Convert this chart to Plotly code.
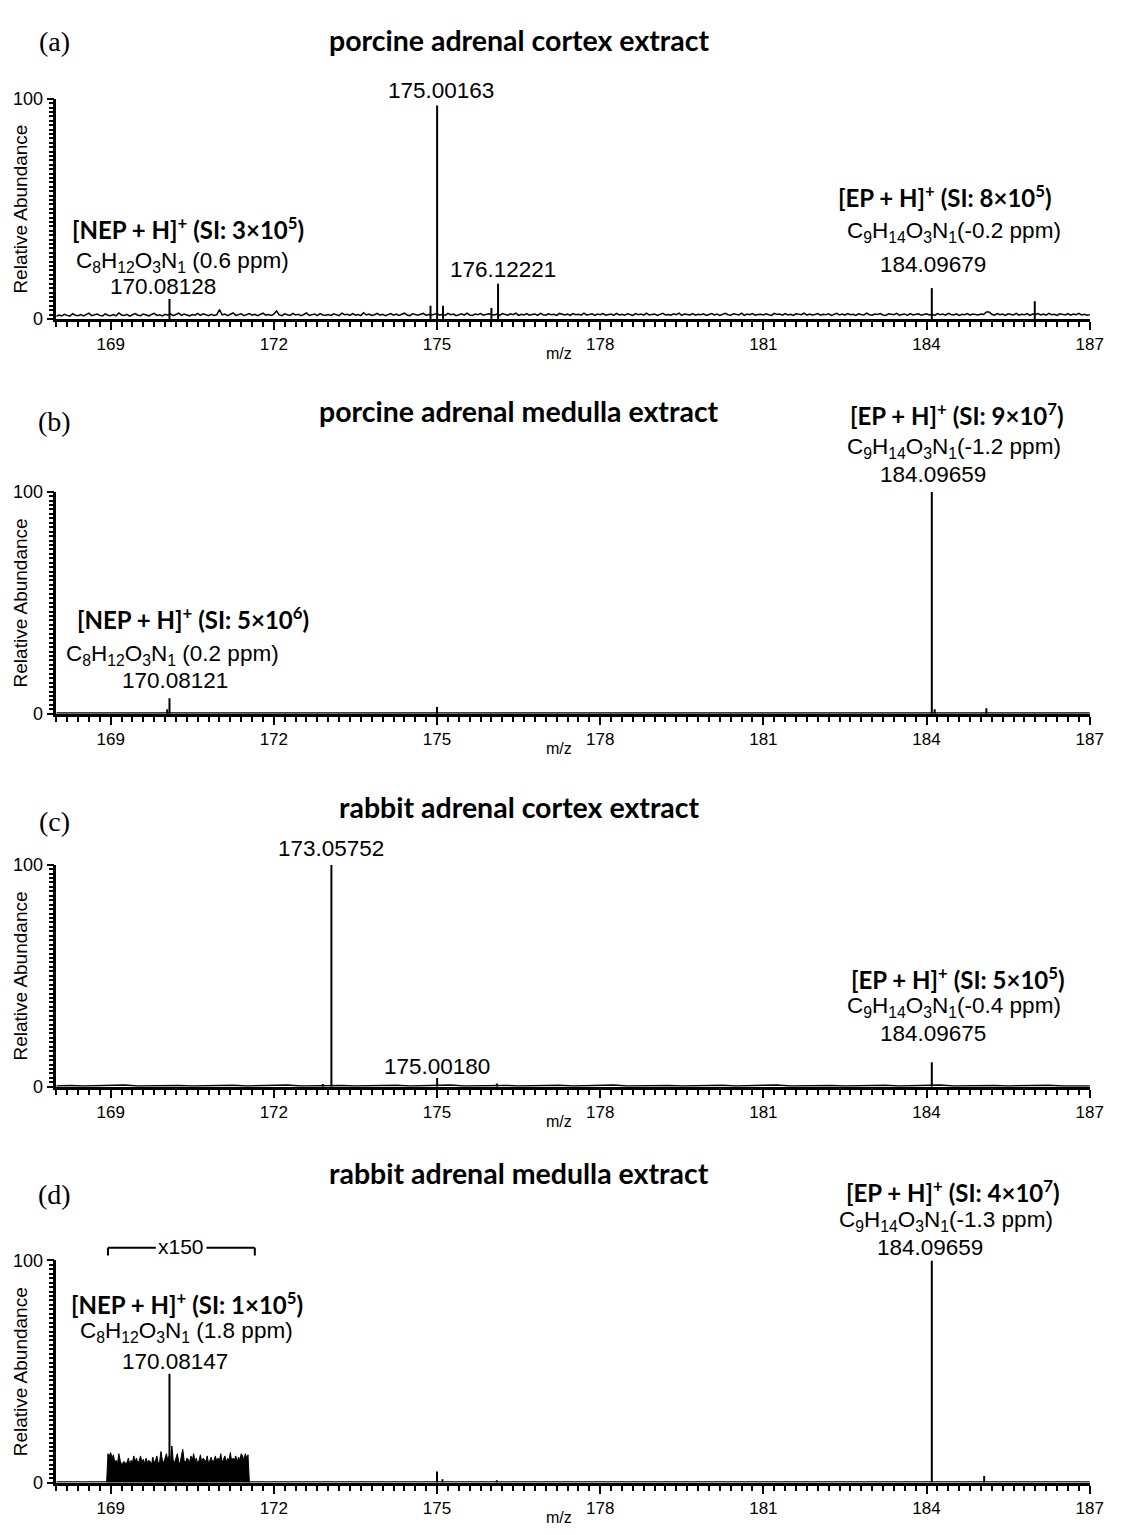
import plotly.graph_objects as go

W, H = 1124, 1535

# ---------------- data ----------------
MZ_MIN, MZ_MAX = 168.0, 187.0
X_TICKS = [169, 172, 175, 178, 181, 184, 187]

# panel (a) noise baseline, 168.00 -> 187.00 step 0.05
noise_a = [
    1.2,1.8,1.4,2.1,1.6,1.3,2.4,1.7,1.5,2.0,1.4,1.9,2.6,1.5,1.8,2.2,1.6,1.3,2.3,1.7,
    1.5,2.0,1.4,2.7,1.8,1.6,2.1,1.3,1.9,2.4,1.7,1.5,2.2,1.8,1.4,2.0,2.5,1.6,1.9,1.4,
    2.1,1.7,2.3,1.5,1.9,2.6,1.6,2.2,1.8,1.4,2.0,1.7,2.5,1.6,2.3,1.8,1.5,2.1,1.6,1.9,
    4.2,1.8,2.2,1.5,2.0,2.7,1.6,1.9,2.3,1.5,1.8,2.4,1.7,2.1,1.5,1.9,2.6,1.7,2.0,1.6,
    2.2,3.6,1.8,1.5,2.3,1.9,1.6,2.5,1.8,2.1,1.5,2.0,2.7,1.6,1.9,2.2,1.5,2.4,1.8,1.7,
    2.0,1.6,2.3,1.8,1.5,2.6,1.9,2.1,1.6,2.4,1.7,2.0,1.5,2.8,1.8,2.2,1.6,1.9,2.5,1.7,
    2.1,1.5,1.9,2.4,1.7,2.2,1.6,2.0,2.6,1.8,1.5,2.3,1.9,1.7,2.1,2.5,1.6,2.0,1.8,2.2,
    2.4,1.7,2.1,1.6,2.5,1.9,2.2,1.5,2.0,2.3,1.7,2.6,1.8,1.6,2.2,1.9,2.4,1.7,2.0,2.3,
    2.0,1.8,2.2,1.6,2.4,2.0,1.7,2.3,1.9,2.6,1.6,2.1,1.8,2.4,1.7,2.0,2.2,1.6,2.5,1.9,
    1.7,2.3,1.9,2.1,1.6,2.5,2.0,1.8,2.2,1.6,2.4,1.9,2.1,1.7,2.6,1.8,2.0,2.3,1.6,2.2,
    1.9,2.4,1.7,2.0,2.2,1.6,2.5,1.8,2.1,1.7,2.3,2.0,1.6,2.4,1.9,2.2,1.7,2.6,1.8,2.0,
    2.2,1.6,2.1,2.5,1.8,2.0,1.7,2.3,1.9,2.6,1.6,2.2,2.0,1.8,2.4,1.7,2.1,1.9,2.3,1.6,
    2.0,2.4,1.8,2.2,1.6,2.1,2.5,1.9,1.7,2.3,2.0,1.8,2.6,1.6,2.2,1.9,2.4,1.7,2.0,2.1,
    1.8,2.3,1.9,1.6,2.5,2.0,2.2,1.7,2.4,1.8,2.1,1.6,2.3,2.0,1.9,2.6,1.7,2.2,1.8,2.0,
    2.4,1.7,2.1,1.9,2.3,1.6,2.0,2.5,1.8,2.2,1.7,2.4,1.9,2.1,1.6,2.3,2.0,1.8,2.6,1.9,
    1.7,2.2,2.0,2.4,1.8,1.6,2.3,2.1,1.9,2.5,1.7,2.0,2.2,1.6,2.4,1.8,2.1,2.3,1.7,2.0,
    2.3,1.8,2.1,1.6,2.4,1.9,2.2,1.7,2.5,2.0,1.8,2.3,1.6,2.1,1.9,2.4,1.7,2.2,2.0,1.8,
    2.2,2.0,3.2,3.2,2.1,1.7,2.4,1.9,2.2,1.6,2.3,2.0,1.8,2.5,1.7,2.1,1.9,2.4,1.6,2.2,
    2.0,2.4,1.8,2.2,1.7,2.5,1.9,2.1,1.6,2.3,2.0,1.8,2.4,1.7,2.2,1.9,2.5,1.8,2.1,1.7,
    1.9,
]
NOISE_A_STEP = 0.05

# panels (b)-(d) low baselines, 168.00 -> 187.00 step 0.25
noise_b = [0.3,0.3,0.3,0.4,0.3,0.3,0.3,0.3,0.3,0.5,0.3,0.3,0.3,0.3,0.3,0.4,0.3,0.3,0.3,0.3,
           0.3,0.3,0.3,0.4,0.3,0.3,0.3,0.3,0.3,0.3,0.3,0.4,0.3,0.3,0.3,0.3,0.3,0.3,0.3,0.4,
           0.3,0.3,0.3,0.3,0.3,0.5,0.3,0.3,0.3,0.3,0.3,0.4,0.3,0.3,0.3,0.3,0.3,0.3,0.3,0.4,
           0.3,0.3,0.3,0.3,0.3,0.3,0.3,0.4,0.3,0.3,0.3,0.3,0.3,0.3,0.3,0.3,0.3]
noise_c = [0.4,0.6,0.4,0.5,0.4,0.8,0.4,0.5,0.4,0.6,0.4,0.5,0.4,0.7,0.4,0.5,0.4,0.8,0.4,0.5,
           0.4,0.6,0.4,0.5,0.4,0.7,0.4,0.5,0.4,0.8,0.4,0.5,0.4,0.6,0.4,0.5,0.4,0.7,0.4,0.5,
           0.4,0.8,0.4,0.5,0.4,0.6,0.4,0.5,0.4,0.7,0.4,0.5,0.4,0.8,0.4,0.5,0.4,0.6,0.4,0.5,
           0.4,0.7,0.4,0.5,0.4,0.8,0.4,0.5,0.4,0.6,0.4,0.5,0.4,0.7,0.4,0.5,0.4]
noise_d = [0.3,0.3,0.3,0.3,0.3,0.3,0.3,0.3,0.3,0.3,0.3,0.3,0.3,0.3,0.3,0.3,0.3,0.3,0.3,0.3,
           0.3,0.3,0.3,0.3,0.3,0.3,0.3,0.3,0.3,0.3,0.3,0.3,0.3,0.3,0.3,0.3,0.3,0.3,0.3,0.3,
           0.3,0.3,0.3,0.3,0.3,0.3,0.3,0.3,0.3,0.3,0.3,0.3,0.3,0.3,0.3,0.3,0.3,0.3,0.3,0.3,
           0.3,0.3,0.3,0.3,0.3,0.3,0.3,0.3,0.3,0.3,0.3,0.3,0.3,0.3,0.3,0.3,0.3]
NOISE_STEP = 0.25

# panel (d) x150 magnified region, 168.925 -> 171.55 step 0.025
zoom_start_d = 168.925
zoom_vals_d = [
    0, 13, 12, 13.5, 11, 12.5, 9, 10, 8.5, 13, 10, 8, 9, 9.5, 8.5, 9, 11, 8, 10, 9,
    12, 9.5, 11, 8.5, 10, 12, 9, 10.5, 8.5, 11, 9, 10, 9.5, 8, 11.5, 9, 10, 12, 8.5, 9.5,
    14, 10, 9, 11, 13, 10, 12, 9.5, 16.5, 10, 9, 11, 13, 9.5, 8.5, 12, 15, 10, 9, 11,
    10.5, 9, 12, 10, 13, 9.5, 11, 8.5, 10, 12.5, 9, 11, 10, 9.5, 12, 8.5, 10, 11.5, 9, 10,
    12, 9.5, 11, 10, 13, 9, 10.5, 12, 9, 11, 10, 13.5, 9.5, 11, 10, 12, 9, 11.5, 10, 13,
    12, 10, 13, 11, 12.5, 0,
]
ZOOM_STEP_D = 0.025

# centroid peaks (m/z, relative abundance)
peaks_a_mz = [170.081, 174.88, 175.002, 175.11, 176.0, 176.122, 184.097, 185.99]
peaks_a_ab = [9, 6, 97, 6, 5, 16, 14, 8]
peaks_b_mz = [170.04, 170.081, 175.0, 184.097, 184.15, 185.1]
peaks_b_ab = [2, 7, 3, 100, 2, 2.5]
peaks_c_mz = [172.9, 173.058, 175.002, 176.1, 184.097]
peaks_c_ab = [1.2, 100, 4, 1.5, 11]
peaks_d_mz = [170.081, 175.0, 175.1, 176.1, 184.097, 185.06]
peaks_d_ab = [49, 5, 1.5, 1, 100, 3]

titles = ["porcine adrenal cortex extract", "porcine adrenal medulla extract",
          "rabbit adrenal cortex extract", "rabbit adrenal medulla extract"]
letters = ["(a)", "(b)", "(c)", "(d)"]

# ---------------- layout helpers ----------------
PLOT_L, PLOT_R = 57, 1104
# (top px of 100, bottom px of 0) per panel
rows = [(90, 313), (488, 713), (866, 1091), (1267, 1492)]


def pxx(x):
    return x / W


def pxy(y):
    return 1 - y / H


SANS = "Liberation Sans, Arial, sans-serif"
BOLD = "Lato, Open Sans, sans-serif"
SERIF = "Liberation Serif, Times New Roman, serif"

fig = go.Figure()


def sticks(mz, ab):
    xs, ys = [], []
    for m, a in zip(mz, ab):
        xs += [m, m, None]
        ys += [0, a, None]
    return xs, ys


noise_sets = [(noise_a, NOISE_A_STEP), (noise_b, NOISE_STEP), (noise_c, NOISE_STEP), (noise_d, NOISE_STEP)]
peak_sets = [(peaks_a_mz, peaks_a_ab), (peaks_b_mz, peaks_b_ab), (peaks_c_mz, peaks_c_ab), (peaks_d_mz, peaks_d_ab)]

for i in range(4):
    ax = "" if i == 0 else str(i + 1)
    vals, step = noise_sets[i]
    xs = [MZ_MIN + k * step for k in range(len(vals))]
    fig.add_trace(go.Scatter(x=xs, y=vals, mode="lines", line=dict(color="black", width=1.5),
                             xaxis="x" + ax, yaxis="y" + ax, showlegend=False, hoverinfo="skip"))
    if i == 3:
        zx = [zoom_start_d + k * ZOOM_STEP_D for k in range(len(zoom_vals_d))]
        fig.add_trace(go.Scatter(x=zx, y=zoom_vals_d, mode="lines", fill="tozeroy",
                                 fillcolor="black", line=dict(color="black", width=1),
                                 xaxis="x4", yaxis="y4", showlegend=False, hoverinfo="skip"))
    sx, sy = sticks(*peak_sets[i])
    fig.add_trace(go.Scatter(x=sx, y=sy, mode="lines", line=dict(color="black", width=2),
                             xaxis="x" + ax, yaxis="y" + ax, showlegend=False, hoverinfo="skip"))

layout = dict(width=W, height=H, margin=dict(l=0, r=0, t=0, b=0),
              paper_bgcolor="white", plot_bgcolor="white", showlegend=False)

for i, (top, bot) in enumerate(rows):
    ax = "" if i == 0 else str(i + 1)
    layout["xaxis" + ax] = dict(
        domain=[pxx(PLOT_L), pxx(PLOT_R)], range=[MZ_MIN, MZ_MAX + 0.01],
        anchor="y" + ax, tickmode="array", tickvals=X_TICKS,
        ticktext=[str(t) for t in X_TICKS],
        ticks="outside", ticklen=8, tickwidth=2, tickcolor="black",
        showline=True, linecolor="black", linewidth=3, showgrid=False, zeroline=False,
        tickfont=dict(family=SANS, size=17, color="black"),
        minor=dict(tickmode="linear", tick0=MZ_MIN, dtick=0.2, ticks="outside",
                   ticklen=5, tickwidth=1.5, tickcolor="black", showgrid=False),
    )
    layout["yaxis" + ax] = dict(
        domain=[pxy(bot), pxy(top)], range=[0, 100], anchor="x" + ax,
        tickmode="array", tickvals=[0, 100], ticktext=["0", "100"],
        ticks="outside", ticklen=7, tickwidth=2, tickcolor="black",
        showline=True, linecolor="black", linewidth=2.5, showgrid=False, zeroline=False,
        tickfont=dict(family=SANS, size=18, color="black"),
        minor=dict(tickmode="linear", tick0=0, dtick=2, ticks="outside",
                   ticklen=5, tickwidth=1.5, tickcolor="black", showgrid=False),
    )

annotations = []


def txt(x, y, text, font, size, **kw):
    d = dict(x=pxx(x), y=pxy(y), xref="paper", yref="paper", text=text, showarrow=False,
             xanchor="center", yanchor="middle",
             font=dict(family=font, size=size, color="black"))
    d.update(kw)
    annotations.append(d)


# titles, letters, axis titles
title_y = [30, 406, 808, 1178]
letter_y = [32, 417, 822, 1200]
for i, (top, bot) in enumerate(rows):
    txt(526, title_y[i], "<b>" + titles[i] + "</b>", BOLD, 28.5)
    txt(55, letter_y[i], letters[i], SERIF, 28)
    txt(21, (top + bot) / 2, "Relative Abundance", SANS, 19, textangle=-90)
    txt(566, bot + 35, "m/z", SANS, 16)


def ion(name, si, exp):
    return "<b>[%s + H]<sup>+</sup> (SI: %s×10<sup>%s</sup>)</b>" % (name, si, exp)


def formula(c, h, ppm, space=True):
    return "C<sub>%s</sub>H<sub>%s</sub>O<sub>3</sub>N<sub>1</sub>%s(%s ppm)" % (c, h, " " if space else "", ppm)


NUM = 22.5
FOR = 22.5
ION = 24

# panel (a)
txt(447, 82, "175.00163", SANS, NUM)
txt(190, 221, ion("NEP", "3", "5"), BOLD, ION)
txt(185, 255, formula(8, 12, "0.6"), SANS, FOR)
txt(165, 280, "170.08128", SANS, NUM)
txt(509, 263, "176.12221", SANS, NUM)
txt(957, 188, ion("EP", "8", "5"), BOLD, ION)
txt(966, 225, formula(9, 14, "-0.2", False), SANS, FOR)
txt(945, 258, "184.09679", SANS, NUM)

# panel (b)
txt(195, 616, ion("NEP", "5", "6"), BOLD, ION)
txt(175, 654, formula(8, 12, "0.2"), SANS, FOR)
txt(177, 679, "170.08121", SANS, NUM)
txt(969, 409, ion("EP", "9", "7"), BOLD, ION)
txt(966, 444, formula(9, 14, "-1.2", False), SANS, FOR)
txt(945, 471, "184.09659", SANS, NUM)

# panel (c)
txt(335, 850, "173.05752", SANS, NUM)
txt(443, 1070, "175.00180", SANS, NUM)
txt(970, 981, ion("EP", "5", "5"), BOLD, ION)
txt(966, 1010, formula(9, 14, "-0.4", False), SANS, FOR)
txt(945, 1037, "184.09675", SANS, NUM)

# panel (d)
txt(183, 1253, "x150", SANS, 21)
txt(189, 1310, ion("NEP", "1", "5"), BOLD, ION)
txt(189, 1339, formula(8, 12, "1.8"), SANS, FOR)
txt(177, 1369, "170.08147", SANS, NUM)
txt(965, 1197, ion("EP", "4", "7"), BOLD, ION)
txt(958, 1227, formula(9, 14, "-1.3", False), SANS, FOR)
txt(942, 1254, "184.09659", SANS, NUM)

layout["annotations"] = annotations

# x150 bracket (in data x coords of panel d)
br_l, br_r = 168.95, 171.65
br_gap_l, br_gap_r = 169.83, 170.76
by, by2 = pxy(1254), pxy(1262)
line = dict(color="black", width=2)
layout["shapes"] = [
    dict(type="line", xref="x4", yref="paper", x0=br_l, x1=br_gap_l, y0=by, y1=by, line=line),
    dict(type="line", xref="x4", yref="paper", x0=br_gap_r, x1=br_r, y0=by, y1=by, line=line),
    dict(type="line", xref="x4", yref="paper", x0=br_l, x1=br_l, y0=by, y1=by2, line=line),
    dict(type="line", xref="x4", yref="paper", x0=br_r, x1=br_r, y0=by, y1=by2, line=line),
]

fig.update_layout(**layout)
fig.write_html("out.html")
